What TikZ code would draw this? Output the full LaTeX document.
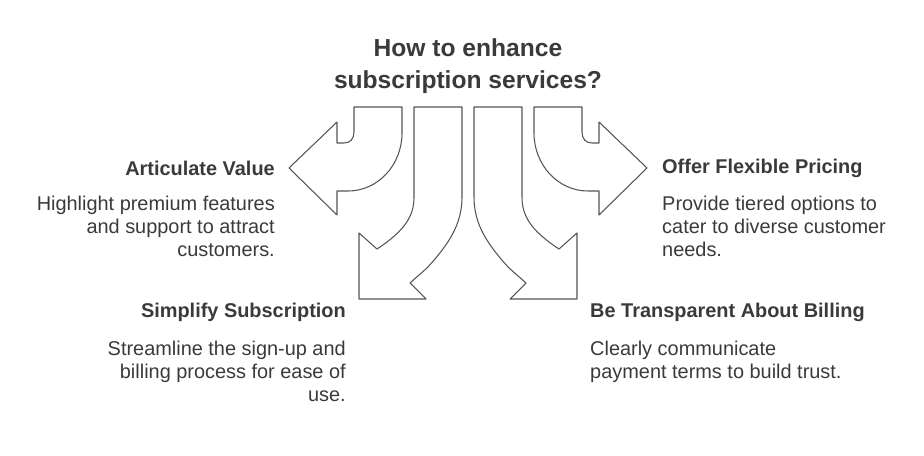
\documentclass[tikz,border=0pt]{standalone}
\usepackage{fontspec}
\setmainfont{Liberation Sans}
\usetikzlibrary{positioning}
\definecolor{txtgray}{HTML}{3A3A3A}
\definecolor{linegray}{HTML}{555555}
\tikzset{
  arr/.style={draw=linegray, line width=0.9pt, line join=round, fill=white},
  head/.style={font=\bfseries\fontsize{17}{20}\selectfont, text=txtgray, inner sep=0pt},
  desc/.style={font=\fontsize{17}{19.5}\selectfont, text=txtgray, inner sep=0pt}
}
\begin{document}
\begin{tikzpicture}[x=0.03cm,y=-0.03cm]
\useasboundingbox (0,0) rectangle (924,456);

% title
\node[font=\bfseries\fontsize{21}{27.5}\selectfont, text=txtgray, align=center] (title) at (468,66) {How to enhance\\subscription services?};

% left arrows, mirrored to the right
\foreach \s in {1,-1}{
\begin{scope}[xshift=468*0.03cm, xscale=\s]
\draw[arr] (-114,107) -- (-114,132) .. controls (-114,139) and (-118,143) .. (-124,143)
  -- (-131,143) -- (-131,122) -- (-179,168) -- (-131,215) -- (-131,191) -- (-120,191)
  .. controls (-90,191) and (-66,165) .. (-66,133) -- (-66,107) -- cycle;
\draw[arr] (-54,107) -- (-54,197) .. controls (-54,215) and (-62,230) .. (-91,249)
  -- (-109,233) -- (-109,299) -- (-42,299) -- (-58,283) -- (-41,268)
  .. controls (-20,245) and (-6,225) .. (-6,197) -- (-6,107) -- cycle;
\end{scope}
}

% left labels
\node[head, anchor=east] (av) at (275,168) {Articulate Value};
\node[desc, anchor=north east, align=right] (avd) at (275,196) {Highlight premium features\\and support to attract\\customers.};
\node[head, anchor=east] (ss) at (346,312) {Simplify Subscription};
\node[desc, anchor=north east, align=right] (ssd) at (346,341) {Streamline the sign-up and\\billing process for ease of\\use.};

% right labels
\node[head, anchor=west] (fp) at (662,168) {Offer Flexible Pricing};
\node[desc, anchor=north west, align=left] (fpd) at (662,196) {Provide tiered options to\\cater to diverse customer\\needs.};
\node[head, anchor=west] (tb) at (590,312) {Be Transparent About Billing};
\node[desc, anchor=north west, align=left] (tbd) at (590,341) {Clearly communicate\\payment terms to build trust.};
\end{tikzpicture}
\end{document}
